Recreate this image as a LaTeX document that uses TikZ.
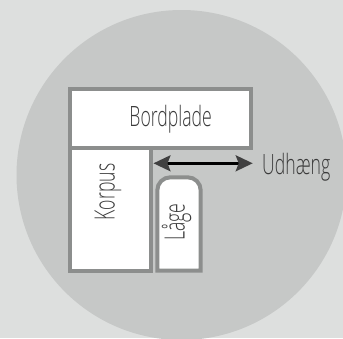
\documentclass[tikz,border=0pt]{standalone}
\usepackage{fontspec}
\setmainfont[FakeStretch=0.63]{Open Sans Light}
\usetikzlibrary{arrows.meta}
\definecolor{bgpale}{HTML}{DDDFDE}
\definecolor{discgray}{HTML}{C6C8C7}
\definecolor{framegray}{HTML}{8C8E8D}
\definecolor{tipgray}{HTML}{404040}
\definecolor{labelgray}{HTML}{3A3A3A}
\newcommand*\framew{4pt}
\tikzset{
    part/.style   = {draw=framegray,fill=white,line width=\framew,
                    inner sep=0pt},
    partlabel/.style = {text=labelgray,font=\fontsize{28}{28}\selectfont,
                    inner sep=0pt},
    uprightlabel/.style = {partlabel,rotate=90},
    reach/.style  = {draw=black,line width=2.4pt,
                    {Stealth[length=17pt,width=16pt,inset=3pt,color=tipgray]}-{Stealth[length=17pt,width=16pt,inset=3pt,color=tipgray]}},
  }
\begin{document}
\begin{tikzpicture}[x=1pt,y=-1pt]
    % Page and disc
    \useasboundingbox (0,0) rectangle (343,338);
    \fill[bgpale] (0,0) rectangle (343,338);
    \fill[discgray] (181.5,175) circle (165);

    % Cabinet parts
    \node (korpus) [part,minimum width=80.7pt,minimum height=122.7pt] at (110.35,209.35) {};
    \node (bord) [part,minimum width=180.7pt,minimum height=58.7pt] at (160.35,118.65) {};
    \draw[part] (157.3,270.7) [rounded corners=13pt] -- (157.3,177.3) -- (200.7,177.3) [sharp corners] -- (200.7,270.7) -- cycle;

    % Labels
    \node (bordtext) [partlabel] at (170.7,119) {Bordplade};
    \node (korpustext) [uprightlabel] at (108,192) {Korpus};
    \node (lagetext) [uprightlabel] at (176.7,222) {Låge};
    \node (udtext) [partlabel,anchor=west] at (262,167) {Udhæng};

    % Overhang arrow
    \coordinate (udstart) at (153.5,163.3);
    \coordinate (udend) at (252.7,163.3);
    \draw[reach] (udstart) -- (udend);
\end{tikzpicture}
\end{document}
